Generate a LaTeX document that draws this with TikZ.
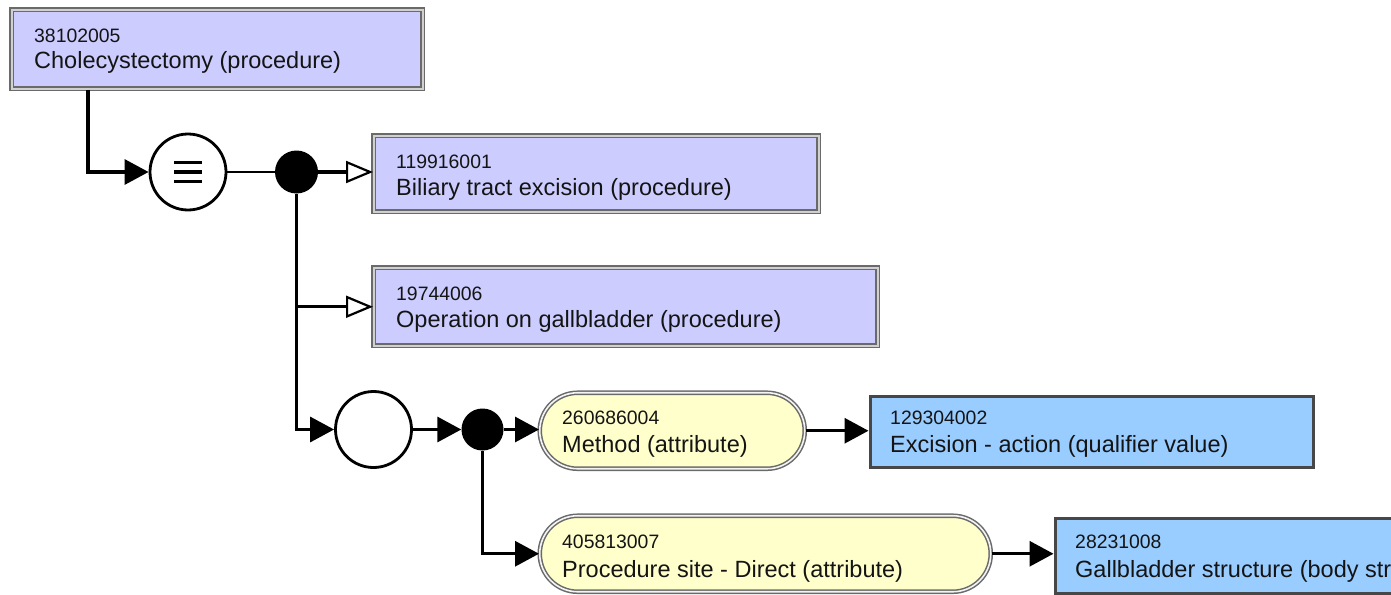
\documentclass[tikz,border=0pt]{standalone}
\usepackage{fontspec}
\setmainfont{Liberation Sans}
\usetikzlibrary{arrows.meta,calc}
\definecolor{proc}{HTML}{CCCCFF}
\definecolor{attr}{HTML}{FFFFCC}
\definecolor{qual}{HTML}{99CCFF}
\definecolor{bord}{HTML}{6A6A6A}
\definecolor{gapc}{HTML}{D0D0D0}
\definecolor{gapw}{HTML}{F4F4F4}
\definecolor{dbord}{HTML}{474747}
\definecolor{txt}{HTML}{141414}
\begin{document}
\begin{tikzpicture}[x=1pt,y=-1pt,
  procbox/.style={rectangle, draw=bord, double=gapc, double distance=1.6pt, line width=1.5pt, fill=proc, inner sep=0pt, anchor=north west},
  attrbox/.style={rectangle, rounded corners=38pt, draw=bord, double=gapw, double distance=1.6pt, line width=1.5pt, fill=attr, inner sep=0pt, anchor=north west},
  qualbox/.style={rectangle, draw=dbord, line width=3.2pt, fill=qual, inner sep=0pt, anchor=north west},
  opcircle/.style={circle, draw=black, line width=2.8pt, fill=white, minimum size=76pt, inner sep=0pt},
  dot/.style={circle, fill=black, inner sep=0pt},
  tnum/.style={anchor=base west, inner sep=0pt, text=txt, font=\fontsize{19.4}{21}\selectfont},
  tname/.style={anchor=base west, inner sep=0pt, text=txt, font=\fontsize{23.5}{25}\selectfont},
  conn/.style={draw=black, line width=3.2pt},
  fa/.style={-{Triangle[length=24pt,width=25pt]}},
  oa/.style={-{Triangle[open,fill=white,length=27pt,width=22pt,line width=2.2pt]}}
]
\useasboundingbox (0,0) rectangle (1391,594);
\clip (0,0) rectangle (1391,594);
\fill[white] (0,0) rectangle (1391,594);

% boxes
\node[procbox, minimum width=411pt, minimum height=79pt] (b1) at (11,9) {};
\node[procbox, minimum width=445pt, minimum height=76pt] (b2) at (373,135) {};
\node[procbox, minimum width=504pt, minimum height=78pt] (b3) at (373,267) {};
\node[attrbox, minimum width=265pt, minimum height=76pt] (p1) at (539,392) {};
\node[attrbox, minimum width=451pt, minimum height=76pt] (p2) at (539,515) {};
\node[qualbox, minimum width=443pt, minimum height=71pt] (b4) at (868.5,394.5) {};
\node[qualbox, minimum width=446pt, minimum height=75pt] (b5) at (1053.5,516.5) {};

% texts
\node[tnum] (b1n) at (34,43) {38102005};
\node[tname] (b1t) at (34,68) {Cholecystectomy (procedure)};
\node[tnum] (b2n) at (396,168) {119916001};
\node[tname] (b2t) at (396,195) {Biliary tract excision (procedure)};
\node[tnum] (b3n) at (396,300) {19744006};
\node[tname] (b3t) at (396,327) {Operation on gallbladder (procedure)};
\node[tnum] (p1n) at (562,424) {260686004};
\node[tname] (p1t) at (562,452) {Method (attribute)};
\node[tnum] (b4n) at (890,424) {129304002};
\node[tname] (b4t) at (890,452) {Excision - action (qualifier value)};
\node[tnum] (p2n) at (562,548) {405813007};
\node[tname] (p2t) at (562,577) {Procedure site - Direct (attribute)};
\node[tnum] (b5n) at (1075,548) {28231008};
\node[tname] (b5t) at (1075,577) {Gallbladder structure (body structure)};

% operators
\node[opcircle] (c1) at (188,172) {};
\draw[line width=3.6pt] ($(c1.center)+(-14,-9.5)$) -- ++(28,0);
\draw[line width=3.6pt] ($(c1.center)+(-14,0)$) -- ++(28,0);
\draw[line width=3.6pt] ($(c1.center)+(-14,9.5)$) -- ++(28,0);
\node[dot, minimum size=43pt] (d1) at (296.5,172) {};
\node[opcircle] (c2) at (373.5,429.5) {};
\node[dot, minimum size=42pt] (d2) at (482.5,429.5) {};

% connectors
\draw[conn,fa] ($(b1.south west)+(77,0)$) |- (c1.west);
\draw[line width=2.2pt] (c1.east) -- (d1.west);
\draw[conn,oa] (d1.east) -- (d1.east -| b2.west);
\draw[conn,fa] (d1.south) |- (c2.west);
\draw[conn,oa] (d1.south |- b3.west) -- (b3.west);
\draw[conn,fa] (c2.east) -- (d2.west);
\draw[conn,fa] (d2.east) -- (d2.east -| p1.west);
\draw[conn,fa] (d2.south) |- (p2.west);
\draw[conn,fa] (p1.east) -- (p1.east -| b4.west);
\draw[conn,fa] (p2.east) -- (p2.east -| b5.west);
\end{tikzpicture}
\end{document}
